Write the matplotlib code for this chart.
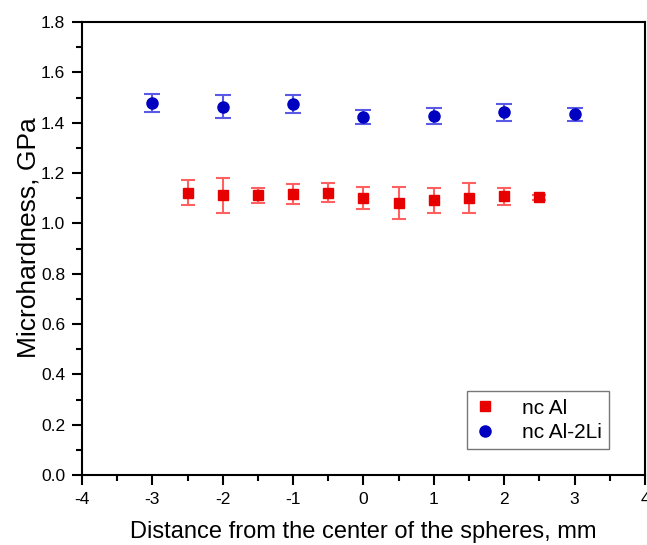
import matplotlib

matplotlib.use("Agg")

import matplotlib.pyplot as plt
from matplotlib.ticker import MultipleLocator

plt.rcParams["font.family"] = ["Liberation Sans", "DejaVu Sans"]
plt.rcParams["axes.unicode_minus"] = False

# nc Al
al_x = [-2.5, -2.0, -1.5, -1.0, -0.5, 0.0, 0.5, 1.0, 1.5, 2.0, 2.5]
al_y = [1.122, 1.112, 1.112, 1.116, 1.122, 1.102, 1.082, 1.091, 1.102, 1.107, 1.103]
al_err = [0.050, 0.070, 0.030, 0.040, 0.039, 0.044, 0.064, 0.050, 0.060, 0.033, 0.010]

# nc Al-2Li
li_x = [-3.0, -2.0, -1.0, 0.0, 1.0, 2.0, 3.0]
li_y = [1.478, 1.463, 1.473, 1.421, 1.427, 1.441, 1.433]
li_err = [0.035, 0.046, 0.036, 0.028, 0.033, 0.033, 0.026]

fig = plt.figure(figsize=(6.47, 5.45), dpi=100)
ax = fig.add_axes([0.1267, 0.1284, 0.8702, 0.8312])

ax.errorbar(al_x, al_y, yerr=al_err, fmt="none", ecolor="#ff6060",
            elinewidth=1.5, capsize=5, capthick=1.5, zorder=2)
ax.plot(al_x, al_y, "s", color="#e60000", markersize=7, label="nc Al", zorder=3)

ax.errorbar(li_x, li_y, yerr=li_err, fmt="none", ecolor="#5a5ae6",
            elinewidth=1.5, capsize=6, capthick=1.5, zorder=2)
ax.plot(li_x, li_y, "o", color="#0000c0", markersize=8, label="nc Al-2Li", zorder=3)

ax.set_xlim(-4, 4)
ax.set_ylim(0, 1.8)
ax.xaxis.set_major_locator(MultipleLocator(1))
ax.xaxis.set_minor_locator(MultipleLocator(0.5))
ax.yaxis.set_major_locator(MultipleLocator(0.2))
ax.yaxis.set_minor_locator(MultipleLocator(0.1))
ax.set_yticklabels([f"{v:.1f}" for v in ax.get_yticks()])
ax.tick_params(which="both", direction="out", width=1.5, labelsize=12.5,
               top=False, right=False)
ax.tick_params(which="major", length=7, pad=5)
ax.tick_params(which="minor", length=4)
for s in ax.spines.values():
    s.set_linewidth(1.5)

ax.set_xlabel("Distance from the center of the spheres, mm", fontsize=17, labelpad=10)
ax.set_ylabel("Microhardness, GPa", fontsize=19)
ax.yaxis.set_label_coords(-0.073, 0.525)

leg = ax.legend(loc="lower left", bbox_to_anchor=(0.684, 0.057), fontsize=15,
                frameon=True, fancybox=False, edgecolor="#555555",
                handlelength=1.0, handletextpad=1.3, borderpad=0.35,
                labelspacing=0.25, borderaxespad=0)
leg.get_frame().set_linewidth(1)

plt.savefig("out.png", dpi=100)
